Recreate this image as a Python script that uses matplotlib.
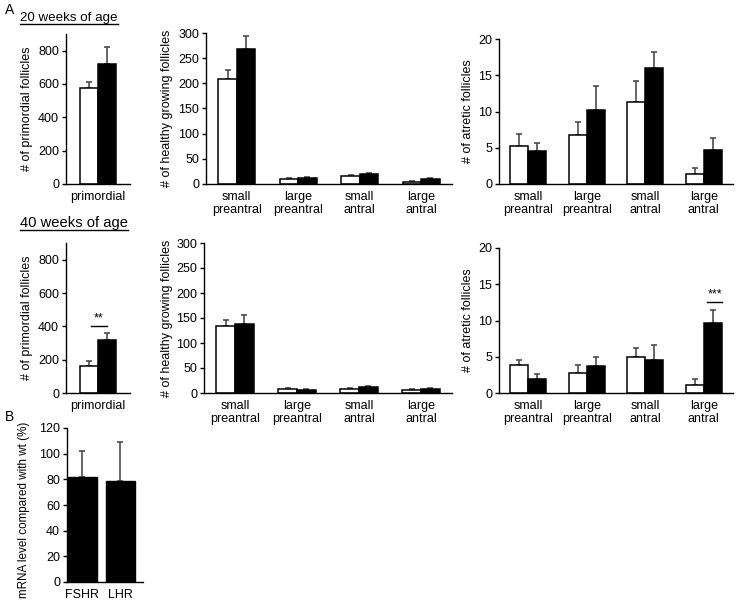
import numpy as np
import matplotlib
matplotlib.use("Agg")
import matplotlib.pyplot as plt
from matplotlib.lines import Line2D

plt.rcParams["font.family"] = ["Liberation Sans", "DejaVu Sans"]

W, H = 745, 600

# ---- data (white = wt, black = mutant) ----
growth_cats = ["small\npreantral", "large\npreantral", "small\nantral", "large\nantral"]

prim20_wt, prim20_wt_err = 575, 40
prim20_mu, prim20_mu_err = 720, 100
prim40_wt, prim40_wt_err = 165, 25
prim40_mu, prim40_mu_err = 320, 40

healthy20_wt = [208, 10, 15, 4]
healthy20_wt_err = [18, 2, 2, 2]
healthy20_mu = [268, 12, 19, 10]
healthy20_mu_err = [26, 2, 3, 2]

atretic20_wt = [5.3, 6.8, 11.3, 1.4]
atretic20_wt_err = [1.6, 1.8, 2.9, 0.8]
atretic20_mu = [4.5, 10.2, 16.0, 4.7]
atretic20_mu_err = [1.2, 3.3, 2.2, 1.7]

healthy40_wt = [135, 8, 8, 6]
healthy40_wt_err = [12, 2, 2, 2]
healthy40_mu = [138, 6, 12, 9]
healthy40_mu_err = [18, 2, 2, 2]

atretic40_wt = [3.8, 2.8, 4.9, 1.1]
atretic40_wt_err = [0.8, 1.0, 1.3, 0.9]
atretic40_mu = [2.0, 3.7, 4.6, 9.7]
atretic40_mu_err = [0.6, 1.2, 2.0, 1.7]

mrna_cats = ["FSHR", "LHR"]
mrna_vals = [82, 79]
mrna_err = [20, 30]

FS = 9
ERR_KW = dict(fmt="none", ecolor="#4d4d4d", elinewidth=1.2, capsize=2.4, capthick=1.2)

fig = plt.figure(figsize=(W / 100, H / 100), dpi=100)


def px_axes(l, r, t, b):
    return fig.add_axes([l / W, 1 - b / H, (r - l) / W, (b - t) / H])


def style(ax, l, r, ylabel, label_x, ymax, yticks, label_y=0.5, label_fs=FS):
    for s in ("top", "right"):
        ax.spines[s].set_visible(False)
    for s in ("left", "bottom"):
        ax.spines[s].set_linewidth(1.0)
    ax.set_ylim(0, ymax)
    ax.set_yticks(yticks)
    ax.tick_params(axis="y", direction="out", length=3, width=1, labelsize=FS, pad=2)
    ax.tick_params(axis="x", length=0, labelsize=FS, pad=5)
    ax.set_ylabel(ylabel, fontsize=label_fs)
    # label_x = right edge of the rotated label, in pixels
    ax.yaxis.set_label_coords((label_x - l) / (r - l), label_y)


def pair_bars(ax, wt, wt_err, mu, mu_err, w):
    x = np.arange(len(wt))
    ax.bar(x - w / 2, wt, w, color="white", edgecolor="black", linewidth=1.1, zorder=2)
    ax.bar(x + w / 2, mu, w, color="black", edgecolor="black", linewidth=1.1, zorder=2)
    ax.errorbar(x - w / 2, wt, yerr=[np.zeros(len(wt)), wt_err], zorder=1, **ERR_KW)
    ax.errorbar(x + w / 2, mu, yerr=[np.zeros(len(mu)), mu_err], zorder=1, **ERR_KW)
    ax.set_xlim(-0.5, len(wt) - 0.5)


def sig(ax, x0, x1, y, txt, dy):
    ax.plot([x0, x1], [y, y], color="black", lw=1.0)
    ax.text((x0 + x1) / 2, y + dy, txt, ha="center", va="bottom", fontsize=FS)


# ---- row 1: 20 weeks ----
ax = px_axes(66, 130, 34, 184)
pair_bars(ax, [prim20_wt], [prim20_wt_err], [prim20_mu], [prim20_mu_err], 0.28)
ax.set_xticks([0]); ax.set_xticklabels(["primordial"])
style(ax, 66, 130, "# of primordial follicles", 33, 900, [0, 200, 400, 600, 800])

ax = px_axes(206, 452, 33, 184)
pair_bars(ax, healthy20_wt, healthy20_wt_err, healthy20_mu, healthy20_mu_err, 0.3)
ax.set_xticks(range(4)); ax.set_xticklabels(growth_cats, linespacing=1.15)
style(ax, 206, 452, "# of healthy growing follicles", 173, 300, range(0, 301, 50))

ax = px_axes(499, 733, 39, 184)
pair_bars(ax, atretic20_wt, atretic20_wt_err, atretic20_mu, atretic20_mu_err, 0.31)
ax.set_xticks(range(4)); ax.set_xticklabels(growth_cats, linespacing=1.15)
style(ax, 499, 733, "# of atretic follicles", 474, 20, range(0, 21, 5))

# ---- row 2: 40 weeks ----
ax = px_axes(66, 130, 243, 393)
pair_bars(ax, [prim40_wt], [prim40_wt_err], [prim40_mu], [prim40_mu_err], 0.28)
ax.set_xticks([0]); ax.set_xticklabels(["primordial"])
style(ax, 66, 130, "# of primordial follicles", 33, 900, [0, 200, 400, 600, 800])
sig(ax, -0.11, 0.14, 400, "**", 10)

ax = px_axes(204, 452, 243, 393)
pair_bars(ax, healthy40_wt, healthy40_wt_err, healthy40_mu, healthy40_mu_err, 0.3)
ax.set_xticks(range(4)); ax.set_xticklabels(growth_cats, linespacing=1.15)
style(ax, 204, 452, "# of healthy growing follicles", 173, 300, range(0, 301, 50))

ax = px_axes(499, 733, 248, 393)
pair_bars(ax, atretic40_wt, atretic40_wt_err, atretic40_mu, atretic40_mu_err, 0.31)
ax.set_xticks(range(4)); ax.set_xticklabels(growth_cats, linespacing=1.15)
style(ax, 499, 733, "# of atretic follicles", 474, 20, range(0, 21, 5))
sig(ax, 3.06, 3.31, 12.6, "***", 0.15)

# ---- B: mRNA ----
ax = px_axes(67, 143, 428, 582)
xb = np.arange(len(mrna_vals))
ax.bar(xb, mrna_vals, 0.76, color="black", edgecolor="black", zorder=2)
ax.errorbar(xb, mrna_vals, yerr=[np.zeros(2), mrna_err], zorder=1, **ERR_KW)
ax.set_xlim(-0.4, 1.6)
ax.set_xticks(xb); ax.set_xticklabels(mrna_cats)
style(ax, 67, 143, "mRNA level compared with wt (%)", 30, 120, range(0, 121, 20),
      label_y=0.47, label_fs=8.4)

# ---- panel letters & row titles ----
fig.text(5 / W, 1 - 3 / H, "A", fontsize=10, ha="left", va="top")
fig.text(5 / W, 1 - 410 / H, "B", fontsize=10, ha="left", va="top")
t1 = fig.text(20 / W, 1 - 21 / H, "20 weeks of age", fontsize=9.6, ha="left", va="baseline")
t2 = fig.text(20 / W, 1 - 227 / H, "40 weeks of age", fontsize=10.6, ha="left", va="baseline")

fig.canvas.draw()
r = fig.canvas.get_renderer()
for t, base, off in ((t1, 21, 2.5), (t2, 227, 3)):
    bb = t.get_window_extent(r)
    y = 1 - (base + off) / H
    fig.add_artist(Line2D([bb.x0 / W, bb.x1 / W], [y, y], color="black", lw=1.0))

fig.savefig("out.png", dpi=100)
